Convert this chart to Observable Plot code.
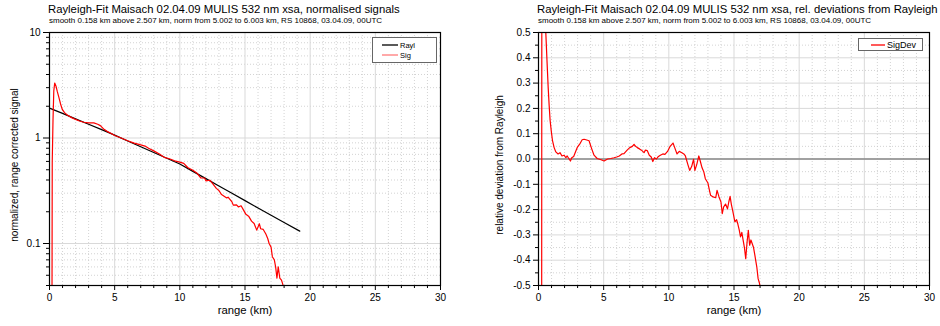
<!DOCTYPE html>
<html><head><meta charset="utf-8">
<script src="https://cdn.jsdelivr.net/npm/d3@7"></script>
<script src="https://cdn.jsdelivr.net/npm/@observablehq/plot@0.6"></script>
<style>
body{margin:0;background:#fff;font-family:"Liberation Sans",Arial,sans-serif;}
#wrap{position:relative;width:940px;height:326px;overflow:hidden;background:#fff;}
.panel{position:absolute;top:0;}
.title{position:absolute;font-size:11.3px;line-height:1;white-space:nowrap;color:#000;}
.sub{position:absolute;font-size:8px;line-height:1;white-space:nowrap;color:#000;}
.ylab{position:absolute;font-size:10px;line-height:1;white-space:nowrap;color:#000;transform:translate(-50%,-50%) rotate(-90deg);}
.legend{position:absolute;border:1px solid #666;background:#fff;box-sizing:border-box;}
.legend svg{position:absolute;left:0;top:0;overflow:visible;}
</style></head><body><div id="wrap"></div>
<script>
// ---- data ----
const raylKm  = [0,1,2,3,4,5,6,7,8,9,10,11,12,13,14,15,16,17,18,19.2];
const raylVal = [1.92,1.71,1.52,1.35,1.2,1.064,0.938,0.827,0.729,0.643,0.567,0.483,0.412,0.351,0.299,0.255,0.217,0.185,0.158,0.131];

const sigKm  = [0.19,0.21,0.27,0.33,0.4,0.5,0.6,0.72,0.85,0.97,1.15,1.36,1.7,2.0,2.3,2.63,3.0,3.4,3.7,3.9,4.15,4.42,4.7,5.0,5.5,6.0,6.5,7.0,7.33,7.6,8.0,8.4,8.8,9.2,9.6,10.0,10.3,10.6,11.0,11.3,11.6,11.9,12.0,12.3,12.55,12.8,13.0,13.2,13.6,13.7,14.0,14.1,14.35,14.5,14.7,14.9,15.07,15.3,15.5,15.7,15.9,16.1,16.2,16.4,16.6,16.75,16.85,17.0,17.1,17.25,17.35,17.45,17.55,17.67,17.8,17.9,18.0];
const sigVal = [0.02,0.6,1.5,2.8,3.32,3.1,2.75,2.43,2.1,1.88,1.74,1.65,1.56,1.5,1.45,1.41,1.39,1.39,1.35,1.31,1.22,1.156,1.11,1.055,1.0,0.943,0.894,0.86,0.839,0.8,0.755,0.71,0.656,0.636,0.608,0.59,0.575,0.525,0.495,0.466,0.419,0.418,0.393,0.398,0.365,0.333,0.318,0.291,0.27,0.275,0.248,0.231,0.232,0.222,0.228,0.206,0.189,0.18,0.163,0.155,0.134,0.154,0.138,0.136,0.123,0.111,0.1,0.0925,0.075,0.07,0.06,0.047,0.06,0.047,0.045,0.041,0.035];

const devKm  = [0.24,0.26,0.5,0.56,0.65,0.74,0.82,0.89,0.98,1.07,1.2,1.33,1.5,1.65,1.8,1.96,2.1,2.2,2.35,2.45,2.55,2.7,2.85,2.99,3.2,3.35,3.5,3.7,3.88,4.05,4.26,4.5,4.8,5.03,5.3,5.55,5.8,6.0,6.2,6.4,6.56,6.8,7.0,7.2,7.33,7.45,7.58,7.75,7.9,8.1,8.2,8.35,8.5,8.65,8.77,8.9,9.05,9.2,9.35,9.54,9.7,9.9,10.1,10.32,10.45,10.63,10.8,11.0,11.15,11.27,11.45,11.6,11.75,11.9,12.0,12.15,12.3,12.42,12.55,12.68,12.8,13.0,13.1,13.2,13.4,13.6,13.7,13.85,14.0,14.1,14.2,14.35,14.5,14.6,14.7,14.8,14.9,15.07,15.2,15.3,15.4,15.5,15.6,15.7,15.8,15.9,16.0,16.1,16.2,16.3,16.4,16.5,16.6,16.75,16.85,16.95,17.05];
const devVal = [-0.95,1.2,0.62,0.5,0.39,0.285,0.21,0.153,0.11,0.074,0.045,0.028,0.02,0.025,0.012,0.015,0.005,0.012,0.0,-0.008,0.005,0.01,0.03,0.047,0.062,0.076,0.078,0.075,0.072,0.045,0.015,0.002,-0.003,-0.008,0.0,0.002,0.005,0.008,0.012,0.02,0.021,0.035,0.045,0.05,0.058,0.05,0.045,0.04,0.035,0.025,0.035,0.033,0.015,0.008,-0.01,0.005,0.0,0.01,0.015,0.02,0.018,0.03,0.05,0.063,0.045,0.02,0.03,0.025,0.02,0.012,-0.02,-0.045,-0.03,-0.001,-0.045,-0.02,0.012,-0.01,-0.035,-0.05,-0.078,-0.095,-0.12,-0.143,-0.15,-0.153,-0.124,-0.15,-0.17,-0.216,-0.19,-0.178,-0.197,-0.17,-0.148,-0.18,-0.204,-0.249,-0.24,-0.258,-0.28,-0.308,-0.29,-0.321,-0.35,-0.394,-0.33,-0.282,-0.341,-0.32,-0.335,-0.35,-0.38,-0.427,-0.473,-0.49,-0.52];

const xMajor = [0,5,10,15,20,25,30];
const xMinor = [1,2,3,4,6,7,8,9,11,12,13,14,16,17,18,19,21,22,23,24,26,27,28,29];
const yMajorL = [0.1,1,10];
const yMinorL = [0.04,0.05,0.06,0.07,0.08,0.09,0.2,0.3,0.4,0.5,0.6,0.7,0.8,0.9,2,3,4,5,6,7,8,9];
const yMajorR = [-0.5,-0.4,-0.3,-0.2,-0.1,0,0.1,0.2,0.3,0.4,0.5];
const yMinorR = [-0.45,-0.35,-0.25,-0.15,-0.05,0.05,0.15,0.25,0.35,0.45];
const yLabelsR = ["-0.5","-0.4","-0.3","-0.2","-0.1","0.0","0.1","0.2","0.3","0.4","0.5"];

const texts = {
  titleL: "Rayleigh-Fit Maisach 02.04.09 MULIS 532 nm xsa, normalised signals",
  titleR: "Rayleigh-Fit Maisach 02.04.09 MULIS 532 nm xsa, rel. deviations from Rayleigh",
  sub: "smooth 0.158 km above 2.507 km, norm from 5.002 to 6.003 km, RS 10868, 03.04.09, 00UTC",
  ylabL: "normalized, range corrected signal",
  ylabR: "relative deviation from Rayleigh",
  xlab: "range (km)"
};

// ---- build ----
const rayl = raylKm.map((k,i)=>({km:k, v:raylVal[i]}));
const sig = sigKm.map((k,i)=>({km:k, v:sigVal[i]}));
const dev = devKm.map((k,i)=>({km:k, v:devVal[i]}));

const font = '"Liberation Sans", Arial, sans-serif';
const minorGrid = {stroke:"#c8c8c8", strokeOpacity:1, strokeDasharray:"1,2", strokeWidth:0.8};
const majorGrid = {stroke:"#d9d9d9", strokeOpacity:1, strokeWidth:1};

function common(marginLeft, marginRight){
  return {width:470, height:326, marginLeft, marginRight, marginTop:32, marginBottom:41,
    style:{fontFamily:font, fontSize:"10px", background:"transparent", color:"#000", overflow:"visible"}};
}

const left = Plot.plot({
  ...common(49, 30),
  x:{domain:[0,30]},
  y:{type:"log", domain:[0.04,10]},
  marks:[
    Plot.gridX(xMinor, minorGrid),
    Plot.gridY(yMinorL, minorGrid),
    Plot.gridX(xMajor, majorGrid),
    Plot.gridY(yMajorL, majorGrid),
    Plot.line(rayl, {x:"km", y:"v", stroke:"#000", strokeWidth:1.2, clip:true}),
    Plot.line(sig, {x:"km", y:"v", stroke:"#ff0000", strokeWidth:1.2, clip:true}),
    Plot.frame({stroke:"#000", strokeWidth:1.2}),
    Plot.axisX(xMajor, {tickSize:5, tickPadding:3, label:null, tickFormat:d=>String(d)}),
    Plot.axisX(xMinor, {tickSize:3, label:null, tickFormat:()=>""}),
    Plot.axisY(yMajorL, {tickSize:6, tickPadding:3, label:null, tickFormat:d=>String(d)}),
    Plot.axisY(yMinorL, {tickSize:3, label:null, tickFormat:()=>""}),
    Plot.text([texts.xlab], {text:d=>d, frameAnchor:"bottom", dy:28, fontSize:11.3})
  ]
});

const right = Plot.plot({
  ...common(68, 11),
  x:{domain:[0,30]},
  y:{domain:[-0.5,0.5]},
  marks:[
    Plot.gridX(xMinor, minorGrid),
    Plot.gridY(yMinorR, minorGrid),
    Plot.gridX(xMajor, majorGrid),
    Plot.gridY(yMajorR, majorGrid),
    Plot.ruleY([0], {stroke:"#888", strokeWidth:1.6}),
    Plot.line(dev, {x:"km", y:"v", stroke:"#ff0000", strokeWidth:1.2, clip:true}),
    Plot.frame({stroke:"#000", strokeWidth:1.2}),
    Plot.axisX(xMajor, {tickSize:5, tickPadding:3, label:null, tickFormat:d=>String(d)}),
    Plot.axisX(xMinor, {tickSize:3, label:null, tickFormat:()=>""}),
    Plot.axisY(yMajorR, {tickSize:5, tickPadding:3, label:null, tickFormat:(d,i)=>yLabelsR[i]}),
    Plot.axisY(yMinorR, {tickSize:3, label:null, tickFormat:()=>""}),
    Plot.text([texts.xlab], {text:d=>d, frameAnchor:"bottom", dy:28, fontSize:11.3})
  ]
});

const wrap = document.getElementById("wrap");
left.classList.add("panel"); left.style.left = "0px";
right.classList.add("panel"); right.style.left = "470px";
wrap.appendChild(left); wrap.appendChild(right);

function addDiv(cls, txt, x, y){
  const d = document.createElement("div");
  d.className = cls; d.textContent = txt; d.style.left = x+"px"; d.style.top = y+"px";
  wrap.appendChild(d); return d;
}
addDiv("title", texts.titleL, 48, 4);
addDiv("sub", texts.sub, 49, 17);
addDiv("title", texts.titleR, 537, 4);
addDiv("sub", texts.sub, 538, 17);
addDiv("ylab", texts.ylabL, 15, 165);
addDiv("ylab", texts.ylabR, 500, 165);

function legend(x, y, w, h, items, fs){
  const d = document.createElement("div");
  d.className = "legend";
  Object.assign(d.style, {left:x+"px", top:y+"px", width:w+"px", height:h+"px"});
  const ns = "http://www.w3.org/2000/svg";
  const s = document.createElementNS(ns, "svg");
  s.setAttribute("width", w); s.setAttribute("height", h);
  items.forEach(it=>{
    const l = document.createElementNS(ns, "line");
    l.setAttribute("x1", it.x1); l.setAttribute("x2", it.x2);
    l.setAttribute("y1", it.y); l.setAttribute("y2", it.y);
    l.setAttribute("stroke", it.color); l.setAttribute("stroke-width", 1.3);
    s.appendChild(l);
    const t = document.createElementNS(ns, "text");
    t.setAttribute("x", it.tx); t.setAttribute("y", it.y);
    t.setAttribute("dy", "0.35em");
    t.setAttribute("font-size", fs); t.setAttribute("font-family", font);
    t.textContent = it.label;
    s.appendChild(t);
  });
  d.appendChild(s);
  wrap.appendChild(d);
}
legend(372, 37, 65, 26, [
  {label:"Rayl", color:"#000", x1:9, x2:25, y:7, tx:27},
  {label:"Sig", color:"#ff7a7a", x1:9, x2:25, y:17, tx:27}
], 7.5);
legend(858, 38, 65, 13, [
  {label:"SigDev", color:"#ff0000", x1:12, x2:26, y:6, tx:28}
], 9);
</script></body></html>
